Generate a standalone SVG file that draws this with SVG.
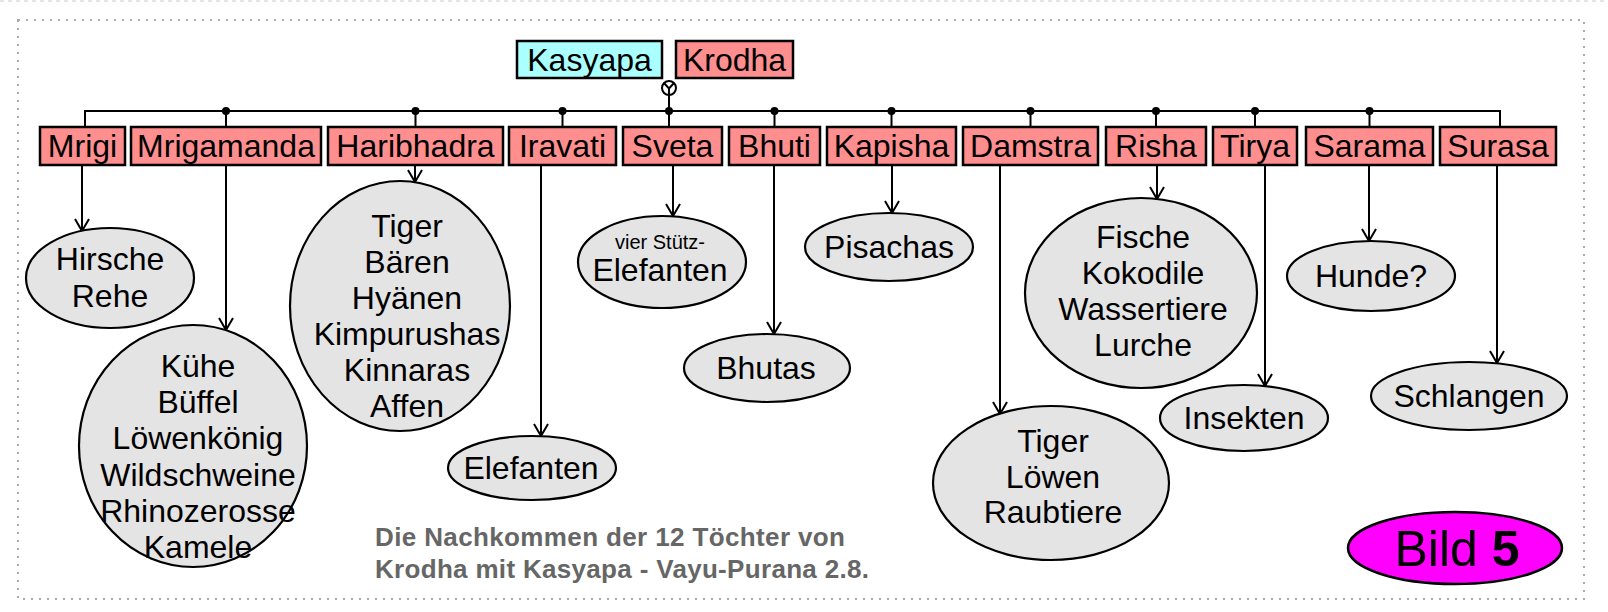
<svg xmlns="http://www.w3.org/2000/svg" width="1608" height="612" viewBox="0 0 1608 612">
<defs>
<style>
text{font-family:"Liberation Sans",Arial,sans-serif;fill:#000;}
.lbl{font-size:32px;text-anchor:middle;}
.box{fill:#ff8f8f;stroke:#000;stroke-width:2.5;}
.man{fill:#aaffff;stroke:#000;stroke-width:2.5;}
.ell{fill:#e4e4e4;stroke:#000;stroke-width:2.2;}
.ln{fill:none;stroke:#000;stroke-width:2;}
.arr{fill:none;stroke:#000;stroke-width:2;marker-end:url(#ah);}
.dot{fill:#000;}
.cap{font-size:26px;font-weight:bold;fill:#666;}
</style>
<marker id="ah" markerUnits="userSpaceOnUse" markerWidth="16" markerHeight="16" viewBox="0 0 16 16" refX="13" refY="8" orient="auto">
<path d="M1,1 L13,8 L1,15" fill="none" stroke="#000" stroke-width="2"/>
</marker>
</defs>
<rect x="0" y="0" width="1608" height="612" fill="#fff"/>
<line x1="0" y1="1" x2="1608" y2="1" stroke="#ddd" stroke-width="1.5" stroke-dasharray="4 4"/>
<rect x="18" y="20" width="1566" height="579" fill="none" stroke="#aaa" stroke-width="2" stroke-dasharray="2 6"/>

<g id="connectors">
<path class="ln" d="M669,95 V111"/>
<path class="ln" d="M85,127 V111 H1500 V127"/>
<path class="ln" d="M226,111 V127 M415.5,111 V127 M562.5,111 V127 M669,111 V127 M774.5,111 V127 M891.5,111 V127 M1030.5,111 V127 M1156,111 V127 M1255,111 V127 M1369.5,111 V127"/>
<g class="dot">
<circle cx="226" cy="111" r="4"/><circle cx="415.5" cy="111" r="4"/><circle cx="562.5" cy="111" r="4"/><circle cx="669" cy="111" r="4"/><circle cx="774.5" cy="111" r="4"/><circle cx="891.5" cy="111" r="4"/><circle cx="1030.5" cy="111" r="4"/><circle cx="1156" cy="111" r="4"/><circle cx="1255" cy="111" r="4"/><circle cx="1369.5" cy="111" r="4"/>
</g>
<line class="arr" x1="82" y1="165" x2="82" y2="231"/>
<line class="arr" x1="226" y1="165" x2="226" y2="330"/>
<line class="arr" x1="415" y1="165" x2="415" y2="182"/>
<line class="arr" x1="541" y1="165" x2="541" y2="436"/>
<line class="arr" x1="673" y1="165" x2="673" y2="216"/>
<line class="arr" x1="774" y1="165" x2="774" y2="334"/>
<line class="arr" x1="892" y1="165" x2="892" y2="213"/>
<line class="arr" x1="1000" y1="165" x2="1000" y2="414"/>
<line class="arr" x1="1157" y1="165" x2="1157" y2="199"/>
<line class="arr" x1="1265" y1="165" x2="1265" y2="386"/>
<line class="arr" x1="1369" y1="165" x2="1369" y2="241"/>
<line class="arr" x1="1497" y1="165" x2="1497" y2="363"/>
</g>

<g id="marriage">
<circle cx="669" cy="88" r="7" fill="#fff" stroke="#000" stroke-width="2"/>
<path class="ln" d="M664,83 L669,88.5 L674,83 M669,88.5 V95" stroke-width="1.8"/>
</g>

<g id="kasyapa"><rect class="man" x="517" y="41" width="145" height="37"/><text class="lbl" x="589.5" y="70.5">Kasyapa</text></g>
<g id="krodha"><rect class="box" x="676" y="41" width="117" height="37"/><text class="lbl" x="734.5" y="70.5">Krodha</text></g>

<g id="mrigi"><rect class="box" x="40" y="127" width="85" height="38"/><text class="lbl" x="82.5" y="157">Mrigi</text></g>
<g id="mrigamanda"><rect class="box" x="131" y="127" width="190" height="38"/><text class="lbl" x="226" y="157">Mrigamanda</text></g>
<g id="haribhadra"><rect class="box" x="328" y="127" width="175" height="38"/><text class="lbl" x="415.5" y="157">Haribhadra</text></g>
<g id="iravati"><rect class="box" x="509" y="127" width="107" height="38"/><text class="lbl" x="562.5" y="157">Iravati</text></g>
<g id="sveta"><rect class="box" x="623" y="127" width="99" height="38"/><text class="lbl" x="672.5" y="157">Sveta</text></g>
<g id="bhuti"><rect class="box" x="729" y="127" width="91" height="38"/><text class="lbl" x="774.5" y="157">Bhuti</text></g>
<g id="kapisha"><rect class="box" x="827" y="127" width="129" height="38"/><text class="lbl" x="891.5" y="157">Kapisha</text></g>
<g id="damstra"><rect class="box" x="963" y="127" width="135" height="38"/><text class="lbl" x="1030.5" y="157">Damstra</text></g>
<g id="risha"><rect class="box" x="1106" y="127" width="100" height="38"/><text class="lbl" x="1156" y="157">Risha</text></g>
<g id="tirya"><rect class="box" x="1213" y="127" width="84" height="38"/><text class="lbl" x="1255" y="157">Tirya</text></g>
<g id="sarama"><rect class="box" x="1306" y="127" width="127" height="38"/><text class="lbl" x="1369.5" y="157">Sarama</text></g>
<g id="surasa"><rect class="box" x="1440" y="127" width="116" height="38"/><text class="lbl" x="1498" y="157">Surasa</text></g>

<g id="hirsche"><ellipse class="ell" cx="110" cy="278" rx="84" ry="50"/>
<text class="lbl" x="110" y="270"><tspan x="110">Hirsche</tspan><tspan x="110" dy="36.5">Rehe</tspan></text></g>
<g id="kuehe"><ellipse class="ell" cx="193" cy="446" rx="114" ry="121"/>
<text class="lbl" x="198" y="377"><tspan x="198">Kühe</tspan><tspan x="198" dy="36.2">Büffel</tspan><tspan x="198" dy="36.2">Löwenkönig</tspan><tspan x="198" dy="36.2">Wildschweine</tspan><tspan x="198" dy="36.2">Rhinozerosse</tspan><tspan x="198" dy="36.2">Kamele</tspan></text></g>
<g id="tiger1"><ellipse class="ell" cx="400" cy="306" rx="110" ry="125"/>
<text class="lbl" x="407" y="237"><tspan x="407">Tiger</tspan><tspan x="407" dy="36">Bären</tspan><tspan x="407" dy="36">Hyänen</tspan><tspan x="407" dy="36">Kimpurushas</tspan><tspan x="407" dy="36">Kinnaras</tspan><tspan x="407" dy="36">Affen</tspan></text></g>
<g id="elefanten"><ellipse class="ell" cx="532" cy="468" rx="84" ry="32"/><text class="lbl" x="531" y="479">Elefanten</text></g>
<g id="stuetz"><ellipse class="ell" cx="662" cy="262" rx="84" ry="46"/>
<text x="660" y="249" font-size="20" text-anchor="middle">vier Stütz-</text><text class="lbl" x="660" y="281">Elefanten</text></g>
<g id="bhutas"><ellipse class="ell" cx="767" cy="368" rx="83" ry="34"/><text class="lbl" x="766" y="379">Bhutas</text></g>
<g id="pisachas"><ellipse class="ell" cx="889" cy="247" rx="84" ry="34"/><text class="lbl" x="889" y="258">Pisachas</text></g>
<g id="tiger2"><ellipse class="ell" cx="1051" cy="483" rx="118" ry="77"/>
<text class="lbl" x="1053" y="452"><tspan x="1053">Tiger</tspan><tspan x="1053" dy="35.5">Löwen</tspan><tspan x="1053" dy="35.5">Raubtiere</tspan></text></g>
<g id="fische"><ellipse class="ell" cx="1141" cy="293" rx="116" ry="95"/>
<text class="lbl" x="1143" y="248"><tspan x="1143">Fische</tspan><tspan x="1143" dy="36">Kokodile</tspan><tspan x="1143" dy="36">Wassertiere</tspan><tspan x="1143" dy="36">Lurche</tspan></text></g>
<g id="insekten"><ellipse class="ell" cx="1244" cy="418" rx="84" ry="33"/><text class="lbl" x="1244" y="429">Insekten</text></g>
<g id="hunde"><ellipse class="ell" cx="1371" cy="276" rx="84" ry="35"/><text class="lbl" x="1371" y="287">Hunde?</text></g>
<g id="schlangen"><ellipse class="ell" cx="1469" cy="396" rx="98" ry="34"/><text class="lbl" x="1469" y="407">Schlangen</text></g>

<g id="caption">
<text class="cap" x="375" y="546" textLength="470" lengthAdjust="spacing">Die Nachkommen der 12 Töchter von</text>
<text class="cap" x="375" y="578" textLength="494" lengthAdjust="spacing">Krodha mit Kasyapa - Vayu-Purana 2.8.</text>
</g>
<g id="bild"><ellipse cx="1455" cy="548" rx="107" ry="36" fill="#ff00ff" stroke="#000" stroke-width="2.5"/>
<text x="1457" y="566" font-size="50" text-anchor="middle">Bild <tspan font-weight="bold">5</tspan></text></g>
</svg>
